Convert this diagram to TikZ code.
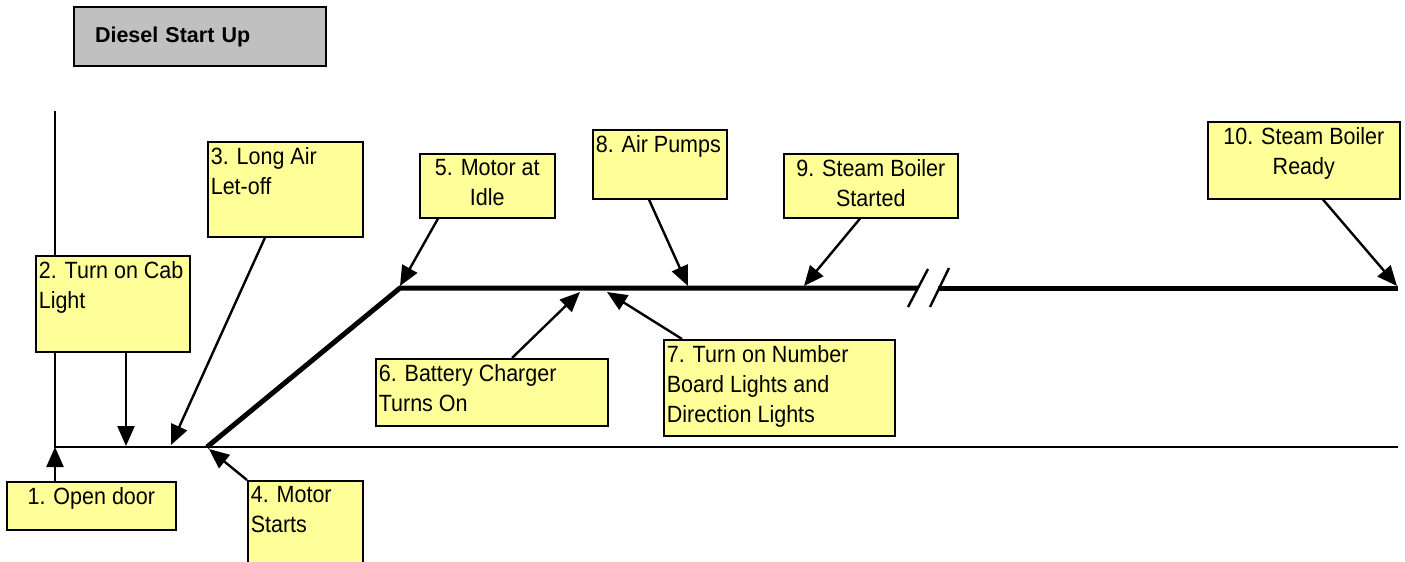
\documentclass[tikz,border=0pt]{standalone}
\usepackage{fontspec}
\setmainfont{Liberation Sans}
\newfontfamily\notefamily{Liberation Sans}[FakeStretch=0.915]
\usetikzlibrary{arrows.meta,positioning}
\definecolor{notefill}{HTML}{FFFF99}
\definecolor{titlefill}{HTML}{C0C0C0}
\newcommand{\notefont}{\notefamily\fontsize{23.5}{30}\selectfont}
\tikzset{
  note/.style={
    draw=black, line width=1.6pt, fill=notefill, anchor=north west,
    inner xsep=3pt, inner ysep=6pt, font=\notefont
  },
  titlebox/.style={
    draw=black, line width=2pt, fill=titlefill, anchor=north west,
    text width=210pt, inner xsep=21pt, minimum height=59pt,
    align=left, font=\fontsize{21.5}{26}\selectfont\bfseries
  },
  track/.style={line width=2.6pt},
  mainline/.style={line width=5pt},
  breakmark/.style={line width=2.4pt},
  pointer/.style={-{Triangle[length=20pt,width=17pt]}, line width=2.4pt}
}

\begin{document}
\begin{tikzpicture}[x=1pt, y=-1pt]
  \useasboundingbox (0,0) rectangle (1405,562);

  % time axes
  \coordinate (yaxis) at (55,111);
  \coordinate (origin) at (55,447);
  \coordinate (axisend) at (1398,447);
  \coordinate (rise) at (207,447);
  \coordinate (idlept) at (400,288);
  \coordinate (breakL) at (918,288);
  \coordinate (breakR) at (938,288);
  \coordinate (runend) at (1398,288);

  \draw[track] (yaxis) -- (origin) -- (axisend);
  \draw[mainline, line join=miter] (rise) -- (idlept) -- (breakL);
  \draw[mainline] (breakR) -- (runend);
  \draw[breakmark] (908,307) -- (928,269);
  \draw[breakmark] (930,307) -- (949,268);

  % title
  \node[titlebox] (title) at (73,6) {Diesel Start Up};

  % step notes
  \node[note] (open) at (6,481)
    {\parbox[t][36pt][t]{163pt}{\centering 1. Open door}};
  \node[note] (cab) at (35,255)
    {\parbox[t][84pt][t]{148pt}{\raggedright 2. Turn on Cab\\Light}};
  \node[note] (lair) at (207,141)
    {\parbox[t][83pt][t]{149pt}{\raggedright 3. Long Air\\Let-off}};
  \node[note] (mstart) at (247,480)
    {\parbox[t][88pt][t]{109pt}{\raggedright 4. Motor\\Starts}};
  \node[note] (idle) at (419,153)
    {\parbox[t][52pt][t]{129pt}{\centering 5. Motor at\\Idle}};
  \node[note] (charger) at (375,358)
    {\parbox[t][55pt][t]{226pt}{\raggedright 6. Battery Charger\\Turns On}};
  \node[note] (lights) at (663,339)
    {\parbox[t][84pt][t]{225pt}{\raggedright 7. Turn on Number\\Board Lights and\\Direction Lights}};
  \node[note] (pumps) at (592,129)
    {\parbox[t][57pt][t]{128pt}{\raggedright 8. Air Pumps}};
  \node[note] (started) at (783,153)
    {\parbox[t][52pt][t]{168pt}{\centering 9. Steam Boiler\\Started}};
  \node[note] (ready) at (1207,121)
    {\parbox[t][65pt][t]{186pt}{\centering 10. Steam Boiler\\Ready}};

  % arrow targets
  \coordinate (t2) at (126,446);
  \coordinate (t3) at (171,445);
  \coordinate (t4) at (209,449);
  \coordinate (t5) at (400,286);
  \coordinate (t6) at (580,292);
  \coordinate (t7) at (607,292);
  \coordinate (t8) at (688,286);
  \coordinate (t9) at (804,286);
  \coordinate (t10) at (1397,286);

  \draw[pointer] ([xshift=49pt]open.north west) -- (origin);
  \draw[pointer] ([xshift=91pt]cab.south west) -- (t2);
  \draw[pointer] ([xshift=58pt]lair.south west) -- (t3);
  \draw[pointer] (mstart.north west) -- (t4);
  \draw[pointer] ([xshift=19pt]idle.south west) -- (t5);
  \draw[pointer] ([xshift=137pt]charger.north west) -- (t6);
  \draw[pointer] ([xshift=19pt]lights.north west) -- (t7);
  \draw[pointer] ([xshift=57pt]pumps.south west) -- (t8);
  \draw[pointer] ([xshift=77pt]started.south west) -- (t9);
  \draw[pointer] ([xshift=116pt]ready.south west) -- (t10);
\end{tikzpicture}
\end{document}
